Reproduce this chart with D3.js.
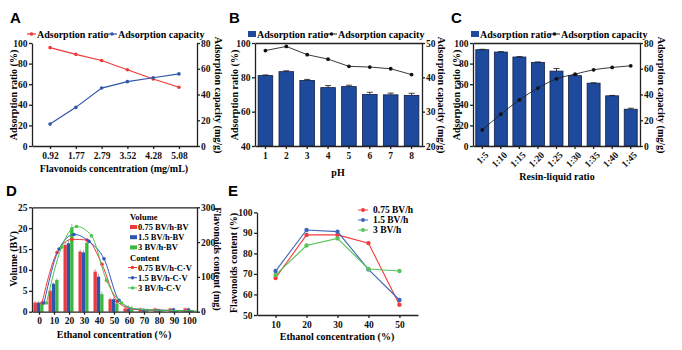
<!DOCTYPE html>
<html>
<head>
<meta charset="utf-8">
<script src="https://cdn.jsdelivr.net/npm/d3@7"></script>
<style>
  body { margin: 0; background: #fff; }
  svg { font-family: "Liberation Serif", "Times New Roman", serif; font-weight: bold; }
  .axis text { font-size: 9.5px; font-weight: bold; fill: #111; font-family: "Liberation Serif", serif; }
  .axis path, .axis line { stroke: #222; stroke-width: 1.3; }
  .ttl { font-size: 10px; }
  .letter { font-family: "Liberation Sans", Arial, sans-serif; font-size: 15px; font-weight: bold; }
</style>
</head>
<body>
<svg width="682" height="350"></svg>
<script>
// ---- panel A
const concLabels = ["0.92", "1.77", "2.79", "3.52", "4.28", "5.08"];
const ratioA = [95.5, 89, 83, 74, 65, 57];
const capacityA = [17, 30, 45, 50, 53, 56];
const ticksA = [0, 20, 40, 60, 80, 100];
const ticksAR = [0, 20, 40, 60, 80];

// ---- panel B
const phLabels = ["1", "2", "3", "4", "5", "6", "7", "8"];
const ratioB = [81, 83.3, 78.2, 74, 74.6, 70, 69.8, 69.5];
const ratioBErr = [0.4, 0.5, 0.6, 1.2, 0.8, 1.3, 1, 1.2];
const capacityB = [47.8, 49, 46.6, 45.3, 43.2, 43, 42.5, 40.8];
const ticksB = [40, 60, 80, 100];
const ticksBR = [20, 30, 40, 50];

// ---- panel C
const resinLabels = ["1:5", "1:10", "1:15", "1:20", "1:25", "1:30", "1:35", "1:40", "1:45"];
const ratioC = [93.5, 91.2, 86.4, 81.2, 72.7, 68.3, 61, 48.7, 35.7];
const ratioCErr = [0.4, 0.4, 0.4, 0.4, 2.5, 0.8, 0.4, 0.4, 1];
const capacityC = [12.5, 24.7, 35.8, 45, 52.2, 55.8, 59.2, 61, 62.3];

// ---- panel D
const ethanolD = ["0", "10", "20", "30", "40", "50", "60", "70", "80", "90", "100"];
const volRed   = [2.2, 5, 16, 14.4, 9.6, 3, 0.8, 0.8, 0.8, 0.8, 0.8];
const volBlue  = [2.2, 6.7, 16.4, 14.2, 8.4, 3, 0.7, 0.7, 0.6, 0.8, 0.8];
const volGreen = [2.2, 7.6, 20.2, 16.5, 4.2, 2, 0.6, 0.6, 0.3, 0.3, 0.3];
const volErr   = [0.4, 0.4, 0.8, 0.5, 0.6, 0.4, 0.8, 0.2, 0.2, 0.2, 0.2];
const contRed   = [25, 170, 208, 206, 136, 30, 8, 5, 4, 3, 2];
const contBlue  = [25, 180, 222, 202, 152, 33, 8, 5, 4, 3, 2];
const contGreen = [25, 185, 245, 218, 90, 25, 8, 5, 4, 3, 2];
const ticksD = [0, 5, 10, 15, 20, 25];
const ticksDR = [0, 100, 200, 300];

// ---- panel E
const ethanolE = ["10", "20", "30", "40", "50"];
const eRed   = [68, 89, 89, 85, 55];
const eBlue  = [71.4, 91.4, 90.6, 72.2, 57.3];
const eGreen = [69.5, 83.8, 87.3, 72.4, 71.4];
const ticksE = [50, 60, 70, 80, 90, 100];

const RED = "#ee3a3a", BLUE = "#2f56a8", BAR = "#1e4a9e", GREEN = "#3cb83c";
const svg = d3.select("svg");

function axis(gen, tx, ty) {
  return svg.append("g").attr("class", "axis").attr("transform", `translate(${tx},${ty})`).call(gen);
}
function label(t, x, y, rot, size) {
  svg.append("text").attr("class", "ttl")
    .attr("transform", `translate(${x},${y}) rotate(${rot || 0})`)
    .attr("text-anchor", "middle").attr("dy", "0.35em")
    .style("font-size", (size || 10) + "px").text(t);
}
function letter(t, x, y) {
  svg.append("text").attr("class", "letter").attr("x", x).attr("y", y).text(t);
}
function dots(data, x, y, color, r) {
  svg.append("g").selectAll("circle").data(data).join("circle")
    .attr("cx", (d, i) => x(i)).attr("cy", d => y(d)).attr("r", r || 1.8).attr("fill", color);
}

// ================= A
const xA = d3.scalePoint().domain(concLabels).range([32, 197]).padding(0.7);
const yAL = d3.scaleLinear().domain([0, 100]).range([146, 43]);
const yAR = d3.scaleLinear().domain([0, 80]).range([146, 43]);
axis(d3.axisBottom(xA).tickSize(3).tickSizeOuter(0), 0, 146);
axis(d3.axisLeft(yAL).tickValues(ticksA).tickSize(3).tickPadding(1.5).tickSizeOuter(0), 32, 0);
axis(d3.axisRight(yAR).tickValues(ticksAR).tickSize(3).tickPadding(1).tickSizeOuter(0), 197, 0);
const pxA = i => xA(concLabels[i]);
svg.append("path").datum(ratioA).attr("fill", "none").attr("stroke", RED).attr("stroke-width", 1.2)
  .attr("d", d3.line().x((d, i) => pxA(i)).y(d => yAL(d)));
svg.append("path").datum(capacityA).attr("fill", "none").attr("stroke", BLUE).attr("stroke-width", 1.2)
  .attr("d", d3.line().x((d, i) => pxA(i)).y(d => yAR(d)));
dots(ratioA, pxA, yAL, RED);
dots(capacityA, pxA, yAR, BLUE);
letter("A", 10, 23);
label("Adsorption ratio (%)", 13, 95, -90);
label("Adsorption capacity (mg/g)", 218, 95, 90);
label("Flavonoids concentration (mg/mL)", 114, 168);
// legend A
svg.append("line").attr("x1", 27).attr("x2", 36).attr("y1", 34).attr("y2", 34).attr("stroke", RED).attr("stroke-width", 1.2);
svg.append("circle").attr("cx", 31.5).attr("cy", 34).attr("r", 1.8).attr("fill", RED);
svg.append("text").attr("x", 37).attr("y", 37.5).style("font-size", "10px").text("Adsorption ratio");
svg.append("line").attr("x1", 107).attr("x2", 117).attr("y1", 34).attr("y2", 34).attr("stroke", BLUE).attr("stroke-width", 1.2);
svg.append("circle").attr("cx", 112).attr("cy", 34).attr("r", 1.8).attr("fill", BLUE);
svg.append("text").attr("x", 118).attr("y", 37.5).style("font-size", "10px").text("Adsorption capacity");

// ================= bar + line panels (B, C)
function barPanel(cats, ratio, err, cap, x0, x1, yDomL, yDomR, ticksL, ticksR, smooth) {
  const x = d3.scaleBand().domain(cats).range([x0, x1]).paddingInner(0.3).paddingOuter(0.15);
  const yL = d3.scaleLinear().domain(yDomL).range([146, 43]);
  const yR = d3.scaleLinear().domain(yDomR).range([146, 43]);
  const cx = i => x(cats[i]) + x.bandwidth() / 2;
  svg.append("g").selectAll("rect").data(ratio).join("rect")
    .attr("x", (d, i) => x(cats[i])).attr("y", d => yL(d))
    .attr("width", x.bandwidth()).attr("height", d => yL(yDomL[0]) - yL(d))
    .attr("fill", BAR).attr("stroke", "#0d1f45").attr("stroke-width", 0.8);
  const eb = svg.append("g").attr("stroke", "#111").attr("stroke-width", 0.8);
  eb.selectAll("line.v").data(ratio).join("line").attr("class", "v")
    .attr("x1", (d, i) => cx(i)).attr("x2", (d, i) => cx(i))
    .attr("y1", d => yL(d)).attr("y2", (d, i) => yL(d + err[i]));
  eb.selectAll("line.c").data(ratio).join("line").attr("class", "c")
    .attr("x1", (d, i) => cx(i) - 3).attr("x2", (d, i) => cx(i) + 3)
    .attr("y1", (d, i) => yL(d + err[i])).attr("y2", (d, i) => yL(d + err[i]));
  axis(d3.axisLeft(yL).tickValues(ticksL).tickSize(3).tickPadding(1.5).tickSizeOuter(0), x0, 0);
  axis(d3.axisRight(yR).tickValues(ticksR).tickSize(3).tickPadding(1).tickSizeOuter(0), x1, 0);
  axis(d3.axisTop(x).tickValues([]).tickSizeOuter(0), 0, 43);
  const xa = axis(d3.axisBottom(x).tickSize(3).tickSizeOuter(0), 0, 146);
  svg.append("path").datum(cap).attr("fill", "none").attr("stroke", "#222").attr("stroke-width", 0.9)
    .attr("d", d3.line().x((d, i) => cx(i)).y(d => yR(d)).curve(smooth ? d3.curveMonotoneX : d3.curveLinear));
  dots(cap, cx, yR, "#111", 1.9);
  return xa;
}
function barLegend(x) {
  svg.append("rect").attr("x", x).attr("y", 31).attr("width", 8).attr("height", 6).attr("fill", BAR);
  svg.append("text").attr("x", x + 9).attr("y", 37.5).style("font-size", "10px").text("Adsorption ratio");
  svg.append("line").attr("x1", x + 78).attr("x2", x + 89).attr("y1", 34).attr("y2", 34).attr("stroke", "#222");
  svg.append("circle").attr("cx", x + 83.5).attr("cy", 34).attr("r", 1.8).attr("fill", "#111");
  svg.append("text").attr("x", x + 90).attr("y", 37.5).style("font-size", "10px").text("Adsorption capacity");
}

// B
barPanel(phLabels, ratioB, ratioBErr, capacityB, 255, 422, [40, 100], [20, 50], ticksB, ticksBR, false);
letter("B", 229, 23);
barLegend(248);
label("Adsorption ratio (%)", 234, 95, -90);
label("Adsorption capacity (mg/g)", 441, 95, 90);
label("pH", 338, 172);

// C
const xaC = barPanel(resinLabels, ratioC, ratioCErr, capacityC, 473, 640, [0, 100], [0, 80], ticksA, ticksAR, true);
xaC.selectAll(".tick text").attr("transform", "rotate(-45)").attr("text-anchor", "end").attr("dx", "-0.2em").attr("dy", "0.6em");
letter("C", 451, 23);
barLegend(471);
label("Adsorption ratio (%)", 456, 95, -90);
label("Adsorption capacity (mg/g)", 661, 95, 90);
label("Resin-liquid ratio", 557, 176);

// ================= D
const xD = d3.scaleBand().domain(ethanolD).range([32, 197]);
const xDin = d3.scaleBand().domain(["r", "b", "g"]).range([0, xD.bandwidth()]).paddingOuter(0.75);
const yD = d3.scaleLinear().domain([0, 25]).range([311.7, 207.3]);
const yDR = d3.scaleLinear().domain([0, 300]).range([311.7, 207.3]);
const volSeries = [["r", volRed, RED], ["b", volBlue, "#2a55b0"], ["g", volGreen, GREEN]];
volSeries.forEach(([k, vals, col]) => {
  const bx = i => xD(ethanolD[i]) + xDin(k) - 1;
  svg.append("g").selectAll("line").data(vals).join("line")
    .attr("x1", (d, i) => bx(i) + xDin.bandwidth() / 2).attr("x2", (d, i) => bx(i) + xDin.bandwidth() / 2)
    .attr("y1", d => yD(d)).attr("y2", (d, i) => yD(d + volErr[i])).attr("stroke", "#999").attr("stroke-width", 0.8);
  svg.append("g").selectAll("rect").data(vals).join("rect")
    .attr("x", (d, i) => bx(i)).attr("y", d => yD(d))
    .attr("width", xDin.bandwidth()).attr("height", d => yD(0) - yD(d)).attr("fill", col);
});
const lineShift = [2.5, 4.5, 7];
const contSeries = [[contRed, RED], [contBlue, "#2f56c0"], [contGreen, "#4cc44c"]];
contSeries.forEach(([vals, col], k) => {
  const px = i => xD(ethanolD[i]) + xD.bandwidth() / 2 + lineShift[k];
  svg.append("path").datum(vals).attr("fill", "none").attr("stroke", col).attr("stroke-width", 1)
    .attr("d", d3.line().x((d, i) => px(i)).y(d => yDR(d)).curve(d3.curveMonotoneX));
  dots(vals.slice(0, 6), px, yDR, col, 1.8);
});
axis(d3.axisLeft(yD).tickValues(ticksD).tickSize(3).tickPadding(1.5).tickSizeOuter(0), 32, 0);
axis(d3.axisRight(yDR).tickValues(ticksDR).tickSize(3).tickPadding(1).tickSizeOuter(0), 197, 0);
axis(d3.axisTop(xD).tickValues([]).tickSizeOuter(0), 0, 207.3);
axis(d3.axisBottom(xD).tickSize(3).tickSizeOuter(0), 0, 311.7);
letter("D", 6, 196);
label("Volume (BV)", 13, 259, -90);
label("Flavonoids content (mg)", 217, 259, 90);
label("Ethanol concentration (%)", 114, 334);
// legend D
const legD = svg.append("g").style("font-size", "8.5px");
legD.append("text").attr("x", 130).attr("y", 220).text("Volume");
volSeries.forEach(([k, vals, col], i) => {
  legD.append("rect").attr("x", 130).attr("y", 225 + i * 10.2).attr("width", 7).attr("height", 4).attr("fill", col);
  legD.append("text").attr("x", 138).attr("y", 230 + i * 10.2).text(["0.75 BV/h-BV", "1.5 BV/h-BV", "3 BV/h-BV"][i]);
});
legD.append("text").attr("x", 130).attr("y", 261).text("Content");
contSeries.forEach(([vals, col], i) => {
  const y = 267.5 + i * 10.2;
  legD.append("line").attr("x1", 128).attr("x2", 137).attr("y1", y).attr("y2", y).attr("stroke", col);
  legD.append("circle").attr("cx", 132.5).attr("cy", y).attr("r", 1.7).attr("fill", col);
  legD.append("text").attr("x", 138).attr("y", y + 3).text(["0.75 BV/h-C\u00b7V", "1.5 BV/h-C\u00b7V", "3 BV/h-C\u00b7V"][i]);
});

// ================= E
const xE = d3.scalePoint().domain(ethanolE).range([257, 418]).padding(0.6);
const yE = d3.scaleLinear().domain([50, 100]).range([315, 212.3]);
axis(d3.axisLeft(yE).tickValues(ticksE).tickSize(3).tickPadding(1.5).tickSizeOuter(0), 257, 0);
axis(d3.axisBottom(xE).tickSize(3).tickSizeOuter(0), 0, 315);
const pxE = i => xE(ethanolE[i]);
const eSeries = [[eRed, "#f03c3c", "0.75 BV/h"], [eBlue, "#3d66b8", "1.5 BV/h"], [eGreen, "#56c456", "3 BV/h"]];
eSeries.forEach(([vals, col, name], k) => {
  svg.append("path").datum(vals).attr("fill", "none").attr("stroke", col).attr("stroke-width", 1.1)
    .attr("d", d3.line().x((d, i) => pxE(i)).y(d => yE(d)));
  dots(vals, pxE, yE, col, 2.2);
  const y = 210 + k * 10;
  svg.append("line").attr("x1", 358).attr("x2", 368).attr("y1", y).attr("y2", y).attr("stroke", col);
  svg.append("circle").attr("cx", 363).attr("cy", y).attr("r", 2).attr("fill", col);
  svg.append("text").attr("x", 373).attr("y", y + 3.3).style("font-size", "9.5px").text(name);
});
letter("E", 228, 196);
label("Flavonoids content (%)", 233, 263, -90);
label("Ethanol concentration (%)", 337, 336);
</script>
</body>
</html>
